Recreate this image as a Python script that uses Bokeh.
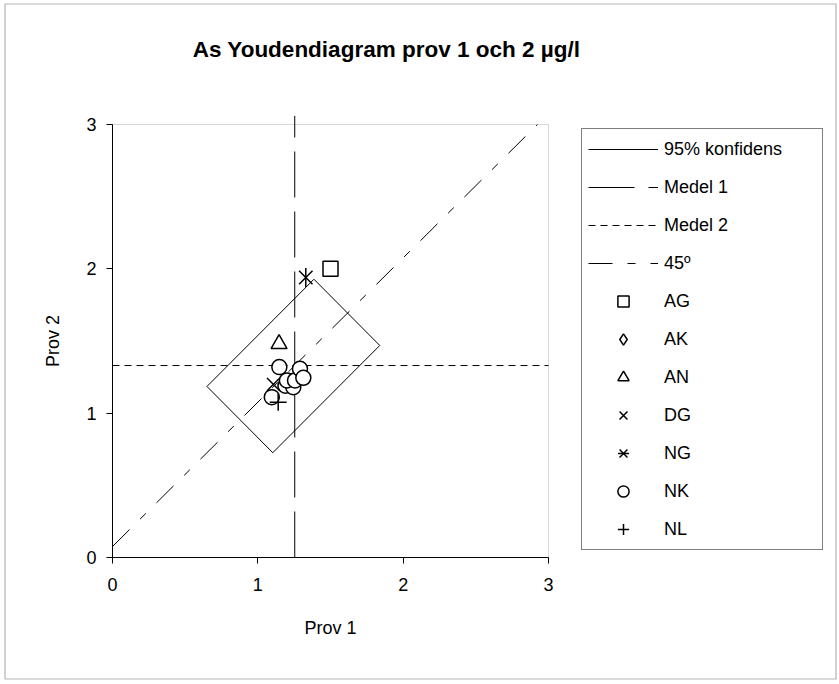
from bokeh.plotting import figure
from bokeh.models import (Range1d, FixedTicker, Legend, LegendItem, Label,
                          BoxAnnotation, LinearAxis)
from bokeh.embed import file_html
from bokeh.resources import INLINE
import math

# ---------------- data ----------------
title_text = "As Youdendiagram prov 1 och 2 µg/l"
x_label = "Prov 1"
y_label = "Prov 2"
tick_values = [0, 1, 2, 3]
axis_min, axis_max = 0, 3

mean_prov1 = 1.254          # Medel 1
mean_prov2 = 1.33           # Medel 2
mean1_top = 3.06            # Medel 1 line drawn slightly above the plot area

# 95% confidence rectangle (corners, closed)
conf_x = [0.65, 1.103, 1.839, 1.386, 0.65]
conf_y = [1.185, 0.726, 1.469, 1.928, 1.185]

# laboratories
ag_x = [1.50]
ag_y = [2.00]
ak_x = [1.28]
ak_y = [1.26]
an_x = [1.146]
an_y = [1.48]
dg_x = [1.107]
dg_y = [1.20]
ng_x = [1.33]
ng_y = [1.94]
nk_x = [1.096, 1.19, 1.244, 1.20, 1.256, 1.148, 1.29, 1.313]
nk_y = [1.111, 1.19, 1.18, 1.227, 1.227, 1.319, 1.307, 1.245]
nl_x = [1.14]
nl_y = [1.076]

FONT = "Liberation Sans"

# ---------------- layout (pixels) ----------------
W, H = 839, 684
PX_L, PX_R = 112, 548      # plot area left/right
PX_T, PX_B = 124, 557      # plot area top/bottom
ppx = (PX_R - PX_L) / (axis_max - axis_min)
ppy = (PX_B - PX_T) / (axis_max - axis_min)
x_start = axis_min - PX_L / ppx
x_end = axis_max + (W - PX_R) / ppx
y_start = axis_min - (H - PX_B) / ppy
y_end = axis_max + PX_T / ppy

p = figure(width=W, height=H, output_backend="svg", toolbar_location=None,
           x_range=Range1d(x_start, x_end), y_range=Range1d(y_start, y_end),
           x_axis_type=None, y_axis_type=None, min_border=0)
p.grid.visible = False
p.outline_line_color = None
p.background_fill_color = "white"
p.border_fill_color = "white"

# outer chart border
outer = BoxAnnotation(left=4.5, right=835.5, bottom=5.5, top=680.5,
                      left_units="screen", right_units="screen",
                      bottom_units="screen", top_units="screen",
                      fill_alpha=0, line_color="black", line_width=1.2, level="underlay")
p.add_layout(outer)
# plot area border (grey)
area = BoxAnnotation(left=axis_min, right=axis_max, bottom=axis_min, top=axis_max,
                     fill_alpha=0, line_color="#808080", line_width=1, level="underlay")
p.add_layout(area)

xaxis = LinearAxis(fixed_location=axis_min, bounds=(axis_min, axis_max),
                   ticker=FixedTicker(ticks=tick_values), axis_label=x_label)
yaxis = LinearAxis(fixed_location=axis_min, bounds=(axis_min, axis_max),
                   ticker=FixedTicker(ticks=tick_values), axis_label=y_label)
p.add_layout(xaxis, "below")
p.add_layout(yaxis, "left")
for ax in (xaxis, yaxis):
    ax.minor_tick_line_color = None
    ax.major_tick_in = 0
    ax.major_tick_out = 6
    ax.axis_line_color = "black"
    ax.major_tick_line_color = "black"
    ax.major_label_text_font = FONT
    ax.major_label_text_font_size = "18px"
    ax.major_label_text_color = "black"
    ax.axis_label_text_font = FONT
    ax.axis_label_text_font_size = "18px"
    ax.axis_label_text_font_style = "normal"
    ax.axis_label_text_color = "black"
xaxis.major_label_standoff = 14
yaxis.major_label_standoff = 10
xaxis.axis_label_standoff = 24
yaxis.axis_label_standoff = 20

# lines
r_conf = p.line(conf_x, conf_y, line_color="black", line_width=1)
r_m1 = p.line([mean_prov1, mean_prov1], [axis_min, mean1_top], line_color="black",
              line_width=1, line_dash="46 14")
r_m2 = p.line([axis_min, axis_max], [mean_prov2, mean_prov2], line_color="black",
              line_width=1, line_dash="7 5")
off = mean_prov2 - mean_prov1
r_45 = p.line([axis_min, axis_max - off], [axis_min + off, axis_max], line_color="black",
              line_width=1, line_dash="24 15 8 15")

# plot markers
common = dict(line_color="black", fill_color="white", line_width=1.5)
r_ak = p.scatter(ak_x, ak_y, marker="diamond", size=17, **common)
r_nk = p.scatter(nk_x, nk_y, marker="circle", size=15, **common)
r_ag = p.scatter(ag_x, ag_y, marker="square", size=15, **common)
r_an = p.scatter(an_x, an_y, marker="triangle", size=16, **common)
r_dg = p.scatter(dg_x, dg_y, marker="x", size=18, **common)
r_ng1 = p.scatter(ng_x, ng_y, marker="x", size=19, **common)
r_ng2 = p.scatter(ng_x, ng_y, marker="dash", angle=math.pi / 2, size=19, **common)
r_nl = p.scatter(nl_x, nl_y, marker="cross", size=17, **common)

items = [
    LegendItem(label="95% konfidens", renderers=[r_conf]),
    LegendItem(label="Medel 1", renderers=[r_m1]),
    LegendItem(label="Medel 2", renderers=[r_m2]),
    LegendItem(label="45º", renderers=[r_45]),
    LegendItem(label="AG", renderers=[r_ag]),
    LegendItem(label="AK", renderers=[r_ak]),
    LegendItem(label="AN", renderers=[r_an]),
    LegendItem(label="DG", renderers=[r_dg]),
    LegendItem(label="NG", renderers=[r_ng1, r_ng2]),
    LegendItem(label="NK", renderers=[r_nk]),
    LegendItem(label="NL", renderers=[r_nl]),
]
legend = Legend(items=items, location=(581, H - 550), margin=0, padding=6, spacing=10,
                glyph_width=70, glyph_height=28, label_height=28, label_width=152,
                label_standoff=6, label_text_font=FONT, label_text_font_size="18px",
                label_text_color="black", border_line_color="black", border_line_width=1,
                background_fill_color="white", background_fill_alpha=1.0)
p.add_layout(legend, "center")

title = Label(x=386, y=H - 49, x_units="screen", y_units="screen", text=title_text,
              text_align="center", text_baseline="middle", text_font=FONT,
              text_font_size="22.5px", text_font_style="bold", text_color="black")
p.add_layout(title)

open("out.html", "w").write(file_html(p, INLINE))
